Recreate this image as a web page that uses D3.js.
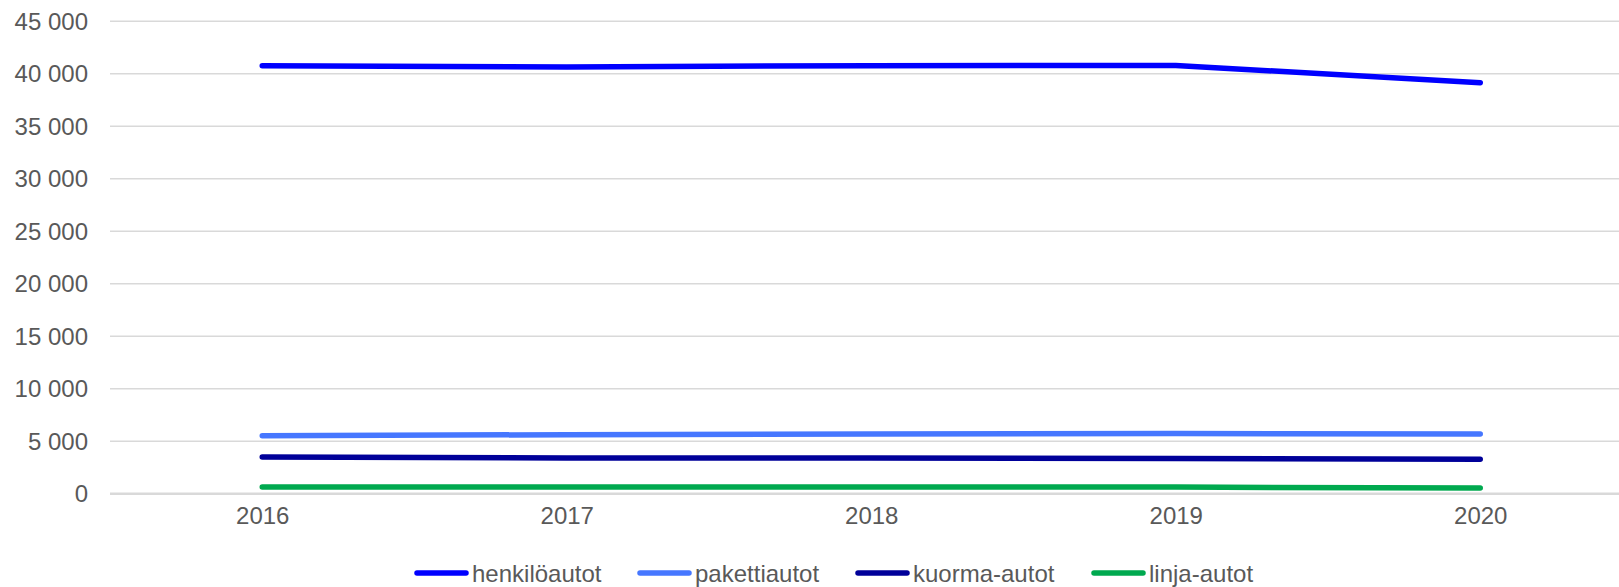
<!DOCTYPE html>
<html>
<head>
<meta charset="utf-8">
<script src="https://cdn.jsdelivr.net/npm/d3@7"></script>
<style>
	html, body { margin: 0; padding: 0; background: #fff; }
	svg { display: block; font-family: "Liberation Sans", Arial, sans-serif; }
	.yAxis .domain, .xAxis .domain { display: none; }
	.yAxis .tick line { stroke: #d9d9d9; stroke-width: 1.6; }
	.yAxis .tick text, .xAxis .tick text { fill: #595959; font-size: 24px; }
	.legend text { fill: #595959; font-size: 24px; }
</style>
</head>
<body>
<div id="chart"></div>
<script>
// data
const years = ['2016', '2017', '2018', '2019', '2020'];
const henkiloautot = [40700, 40600, 40720, 40740, 39100];
const pakettiautot = [5490, 5580, 5650, 5690, 5650];
const kuormaautot = [3460, 3370, 3360, 3320, 3240];
const linjaautot = [600, 600, 590, 590, 500];
const yTicks = [0, 5000, 10000, 15000, 20000, 25000, 30000, 35000, 40000, 45000];

const series = [
	{ name: 'henkilöautot', values: henkiloautot, color: '#0000ff' },
	{ name: 'pakettiautot', values: pakettiautot, color: '#4677ff' },
	{ name: 'kuorma-autot', values: kuormaautot, color: '#000099' },
	{ name: 'linja-autot', values: linjaautot, color: '#00a94f' }
];

const options = {
	w: 1619,
	h: 587,
	mTop: 20.7,
	mLeft: 110,
	plotRight: 1632.5, // plot area runs past the picture edge
	plotBottom: 493.3,
	lineWidth: 5.5
};

const fiLocale = d3.formatLocale({ decimal: ',', thousands: ' ', grouping: [3], currency: ['', ''] });
const fmt = fiLocale.format(',');

const svg = d3.select('#chart')
	.append('svg')
	.attr('width', options.w)
	.attr('height', options.h)
	.attr('viewBox', `0 0 ${options.w} ${options.h}`);

const xScale = d3.scalePoint().domain(years).range([options.mLeft, options.plotRight]).padding(0.5);
const yScale = d3.scaleLinear().domain([0, 45000]).range([options.plotBottom, options.mTop]);

// y axis + gridlines
const yAxis = d3.axisLeft(yScale)
	.tickValues(yTicks)
	.tickFormat(fmt)
	.tickSize(-(options.plotRight - options.mLeft))
	.tickPadding(22);

svg.append('g')
	.attr('class', 'yAxis')
	.attr('transform', `translate(${options.mLeft},0)`)
	.call(yAxis)
	.call(g => g.selectAll('.tick text').attr('dy', '0.35em'))
	.call(g => g.selectAll('.tick').filter(d => d === 0).select('line').style('stroke-width', 2.4));

// x axis
const xAxis = d3.axisBottom(xScale).tickSize(0).tickPadding(14);
svg.append('g')
	.attr('class', 'xAxis')
	.attr('transform', `translate(0,${options.plotBottom})`)
	.call(xAxis);

// lines
const line = d3.line()
	.x((d, i) => xScale(years[i]))
	.y(d => yScale(d));

svg.append('g')
	.selectAll('path.series')
	.data(series.slice().reverse())
	.enter()
	.append('path')
	.attr('class', 'series')
	.attr('d', d => line(d.values))
	.attr('fill', 'none')
	.attr('stroke', d => d.color)
	.attr('stroke-width', options.lineWidth)
	.attr('stroke-linecap', 'round')
	.attr('stroke-linejoin', 'round');

// legend
const legendX = [414, 637, 855, 1091];
const legend = svg.append('g').attr('class', 'legend');
const item = legend.selectAll('g')
	.data(series)
	.enter()
	.append('g')
	.attr('transform', (d, i) => `translate(${legendX[i]},573)`);

item.append('line')
	.attr('x1', 3).attr('x2', 52)
	.attr('y1', 0).attr('y2', 0)
	.attr('stroke', d => d.color)
	.attr('stroke-width', 5.5)
	.attr('stroke-linecap', 'round');

item.append('text')
	.attr('x', 58)
	.attr('y', 8.5)
	.text(d => d.name);
</script>
</body>
</html>
